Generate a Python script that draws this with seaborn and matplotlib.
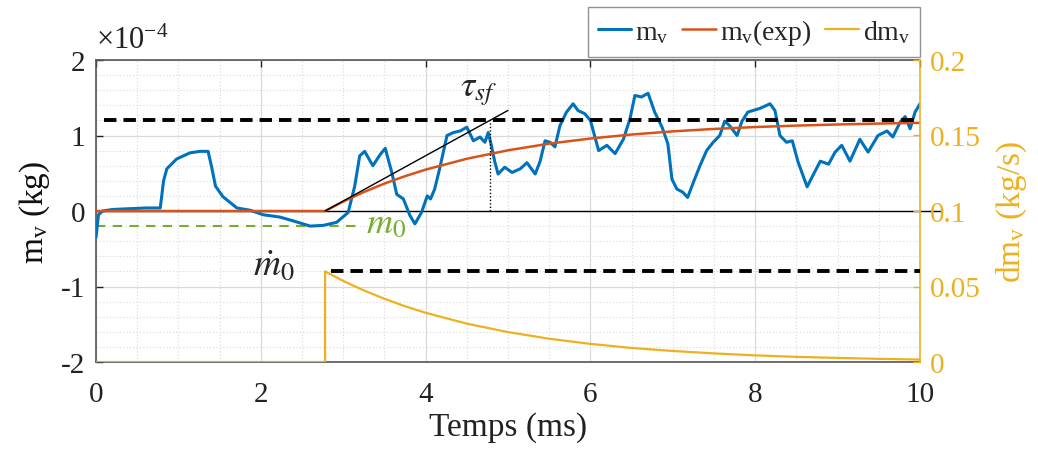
import numpy as np
import matplotlib
matplotlib.use("Agg")
import matplotlib.pyplot as plt
import seaborn as sns

# ---------------- data (values in 1e-4 kg for m_v, kg/s for dm_v) ----------------
t_mv = [0, 0.03, 0.08, 0.2, 0.4, 0.6, 0.78, 0.82, 0.86, 0.98, 1.14, 1.26, 1.36, 1.40, 1.45,
        1.54, 1.71, 1.87, 2.03, 2.23, 2.39, 2.6, 2.76, 2.92, 3.06, 3.14, 3.2, 3.26, 3.36, 3.45,
        3.51, 3.59, 3.65, 3.73, 3.81, 3.87, 3.95, 4.02, 4.06, 4.11, 4.17, 4.26, 4.34, 4.42, 4.5,
        4.58, 4.66, 4.72, 4.76, 4.8, 4.84, 4.88, 4.96, 5.05, 5.15, 5.23, 5.33, 5.39, 5.45, 5.51,
        5.57, 5.63, 5.71, 5.79, 5.85, 5.93, 6.0, 6.05, 6.1, 6.2, 6.3, 6.4, 6.48, 6.54, 6.62,
        6.7, 6.78, 6.87, 6.94, 6.99, 7.05, 7.12, 7.18, 7.25, 7.33, 7.41, 7.49, 7.57, 7.63, 7.69,
        7.78, 7.84, 7.91, 7.97, 8.06, 8.18, 8.24, 8.3, 8.38, 8.45, 8.52, 8.63, 8.7, 8.79, 8.89,
        8.97, 9.05, 9.15, 9.27, 9.37, 9.49, 9.6, 9.67, 9.76, 9.82, 9.88, 9.94, 10.0]
mv = [-0.35, -0.05, 0.0, 0.02, 0.03, 0.04, 0.04, 0.40, 0.56, 0.69, 0.77, 0.79, 0.79, 0.60, 0.33,
      0.19, 0.04, 0.01, -0.05, -0.08, -0.13, -0.2, -0.19, -0.15, -0.02, 0.33, 0.73, 0.79, 0.6, 0.75,
      0.83, 0.51, 0.22, 0.16, -0.06, -0.17, -0.02, 0.2, 0.16, 0.29, 0.56, 1.0, 1.04, 1.06, 1.11,
      0.93, 0.98, 0.91, 1.04, 0.86, 0.65, 0.49, 0.58, 0.51, 0.56, 0.64, 0.49, 0.66, 0.93, 0.91,
      0.85, 1.13, 1.31, 1.42, 1.33, 1.29, 1.2, 1.0, 0.8, 0.87, 0.76, 0.95, 1.22, 1.53, 1.51,
      1.56, 1.31, 1.11, 0.89, 0.42, 0.29, 0.25, 0.18, 0.38, 0.6, 0.8, 0.91, 1.0, 1.19, 1.13,
      1.0, 1.19, 1.31, 1.33, 1.36, 1.42, 1.33, 1.0, 0.91, 0.93, 0.65, 0.32, 0.47, 0.66, 0.62,
      0.78, 0.87, 0.66, 0.95, 0.78, 1.0, 1.06, 0.98, 1.18, 1.25, 1.09, 1.31, 1.42]

t_exp = [0, 2.78, 3.0, 3.25, 3.5, 3.75, 4.0, 4.5, 5.0, 5.5, 6.0, 6.5, 7.0, 7.5, 8.0, 8.5, 9.0, 9.5, 10.0]
mv_exp = [0, 0, 0.125, 0.251, 0.363, 0.461, 0.548, 0.692, 0.804, 0.892, 0.960, 1.013, 1.055,
          1.087, 1.112, 1.131, 1.146, 1.158, 1.168]

t_dm = [0, 2.78, 2.78, 3.0, 3.25, 3.5, 3.75, 4.0, 4.5, 5.0, 5.5, 6.0, 6.5, 7.0, 7.5, 8.0, 8.5, 9.0, 9.5, 10.0]
dmv = [0, 0, 0.06, 0.0537, 0.0474, 0.0419, 0.0369, 0.0326, 0.0254, 0.0198, 0.0154, 0.0120, 0.0093,
       0.0073, 0.0057, 0.0044, 0.0034, 0.0027, 0.0021, 0.0016]

m_inf = 1.2          # asymptote (1e-4 kg)
m0 = -0.2            # initial level (1e-4 kg)
dm0 = 0.06           # initial mass flow (kg/s)
tau_end = 4.78       # t0 + tau_sf (ms)
tangent_t = [2.78, 5.0]
tangent_v = [0.0, 1.332]

x_ticks = [0, 2, 4, 6, 8, 10]
y_ticks = [-2, -1, 0, 1, 2]
y2_ticks = [0, 0.05, 0.1, 0.15, 0.2]
y2_ticklabels = ["0", "0.05", "0.1", "0.15", "0.2"]

# ---------------- style ----------------
sns.set_theme(style="white")
plt.rcParams["font.family"] = ["Liberation Serif", "DejaVu Serif"]
plt.rcParams["mathtext.fontset"] = "custom"
plt.rcParams["mathtext.rm"] = "Liberation Serif"
plt.rcParams["mathtext.it"] = "Liberation Serif:italic"

BLUE = "#0072BD"
RED = "#D95319"
YEL = "#EDB120"
GREEN = "#77AC30"
AXC = "#555555"
TXT = "#222222"

fig = plt.figure(figsize=(10.38, 4.52), dpi=100)
ax = fig.add_axes([96 / 1038, 1 - 363 / 452, (920 - 96) / 1038, (363 - 61) / 452])
ax2 = ax.twinx()

sns.lineplot(x=t_mv, y=mv, ax=ax, color=BLUE, lw=2.2, sort=False, estimator=None,
             label=r"m$_\mathrm{v}$", zorder=5, legend=False)
sns.lineplot(x=t_exp, y=mv_exp, ax=ax, color=RED, lw=1.8, sort=False, estimator=None,
             label=r"m$_\mathrm{v}$(exp)", zorder=6, legend=False)
sns.lineplot(x=t_dm, y=dmv, ax=ax2, color=YEL, lw=1.6, sort=False, estimator=None,
             label=r"dm$_\mathrm{v}$", legend=False)

# reference lines
ax.plot([0, 10.27], [0, 0], color="black", lw=1.0, clip_on=False, zorder=4)
ax.plot([0.1, 10], [m_inf, m_inf], color="black", lw=2.8, ls=(0, (3.2, 1.8)), zorder=7)
ax.plot([0, 3.2], [m0, m0], color=GREEN, lw=1.5, ls=(0, (4.5, 3.5)), zorder=4)
ax.plot(tangent_t, tangent_v, color="black", lw=1.0, zorder=7)
ax.plot([tau_end, tau_end], [0, m_inf], color="black", lw=1.0, ls=(0, (1, 1.5)), zorder=7)
ax2.plot([2.85, 10], [dm0, dm0], color="black", lw=2.8, ls=(0, (3.2, 1.8)), zorder=7)

# annotations
ax.text(4.42, 1.6, r"$\tau_{sf}$", fontsize=26, math_fontfamily="stix", va="center", ha="left")
ax.text(1.9, -0.72, r"$\dot{m}_0$", fontsize=27, math_fontfamily="stix", va="center", ha="left")
ax.text(3.28, -0.17, r"$m_0$", fontsize=26, math_fontfamily="stix", color=GREEN, va="center", ha="left")
ax.text(0.0, 1.065, r"$\times$10$^{-4}$", transform=ax.transAxes, fontsize=22, color=TXT,
        va="center", ha="left")

# axes limits / ticks
ax.set_xlim(0, 10)
ax.set_ylim(-2, 2)
ax2.set_ylim(0, 0.2)
ax.set_xticks(x_ticks)
ax.set_xticklabels([str(v) for v in x_ticks])
ax.set_yticks(y_ticks)
ax.set_yticklabels([str(v) if v >= 0 else "-" + str(-v) for v in y_ticks])
ax2.set_yticks(y2_ticks)
ax2.set_yticklabels(y2_ticklabels)
ax.set_xticks(np.arange(0, 10.01, 0.5), minor=True)
ax.set_yticks(np.arange(-2, 2.01, 0.2), minor=True)

ax.grid(which="major", color="#d9d9d9", lw=0.9, ls="-")
ax.grid(which="minor", color="#d9d9d9", lw=0.8, ls=(0, (1, 2)))
ax2.grid(False)
ax.set_axisbelow(True)

ax.tick_params(axis="x", which="major", direction="in", length=5, width=1, colors=TXT,
               labelsize=21, top=True, pad=14)
ax.tick_params(axis="y", which="major", direction="in", length=5, width=1, colors=TXT,
               labelsize=21, pad=8)
ax.tick_params(which="minor", length=0)
ax2.tick_params(axis="y", which="major", direction="in", length=5, width=1, colors=YEL,
                labelsize=21, pad=7)
ax2.tick_params(which="minor", length=0)

for s in ["left", "top", "bottom"]:
    ax.spines[s].set_color(AXC)
    ax.spines[s].set_linewidth(1.2)
ax.spines["right"].set_visible(False)
for s in ["left", "top", "bottom"]:
    ax2.spines[s].set_visible(False)
ax2.spines["right"].set_color(YEL)
ax2.spines["right"].set_linewidth(1.2)

ax.set_xlabel("Temps (ms)", fontsize=24, color=TXT, labelpad=3)
ax.set_ylabel(r"m$_\mathrm{v}$ (kg)", fontsize=24, color="#111111", labelpad=6)
ax2.set_ylabel(r"dm$_\mathrm{v}$ (kg/s)", fontsize=24, color=YEL, labelpad=10)

# legend
h1, l1 = ax.get_legend_handles_labels()
h2, l2 = ax2.get_legend_handles_labels()
leg = ax2.legend(h1 + h2, l1 + l2, ncol=3, loc="upper right", bbox_to_anchor=(1.0, 1.175),
                 fontsize=20, frameon=True, fancybox=False, edgecolor="#777777",
                 handlelength=1.2, handletextpad=0.15, columnspacing=0.5, borderpad=0.35,
                 borderaxespad=0.0)
leg.get_frame().set_linewidth(1.0)

fig.savefig("out.png", dpi=100)
